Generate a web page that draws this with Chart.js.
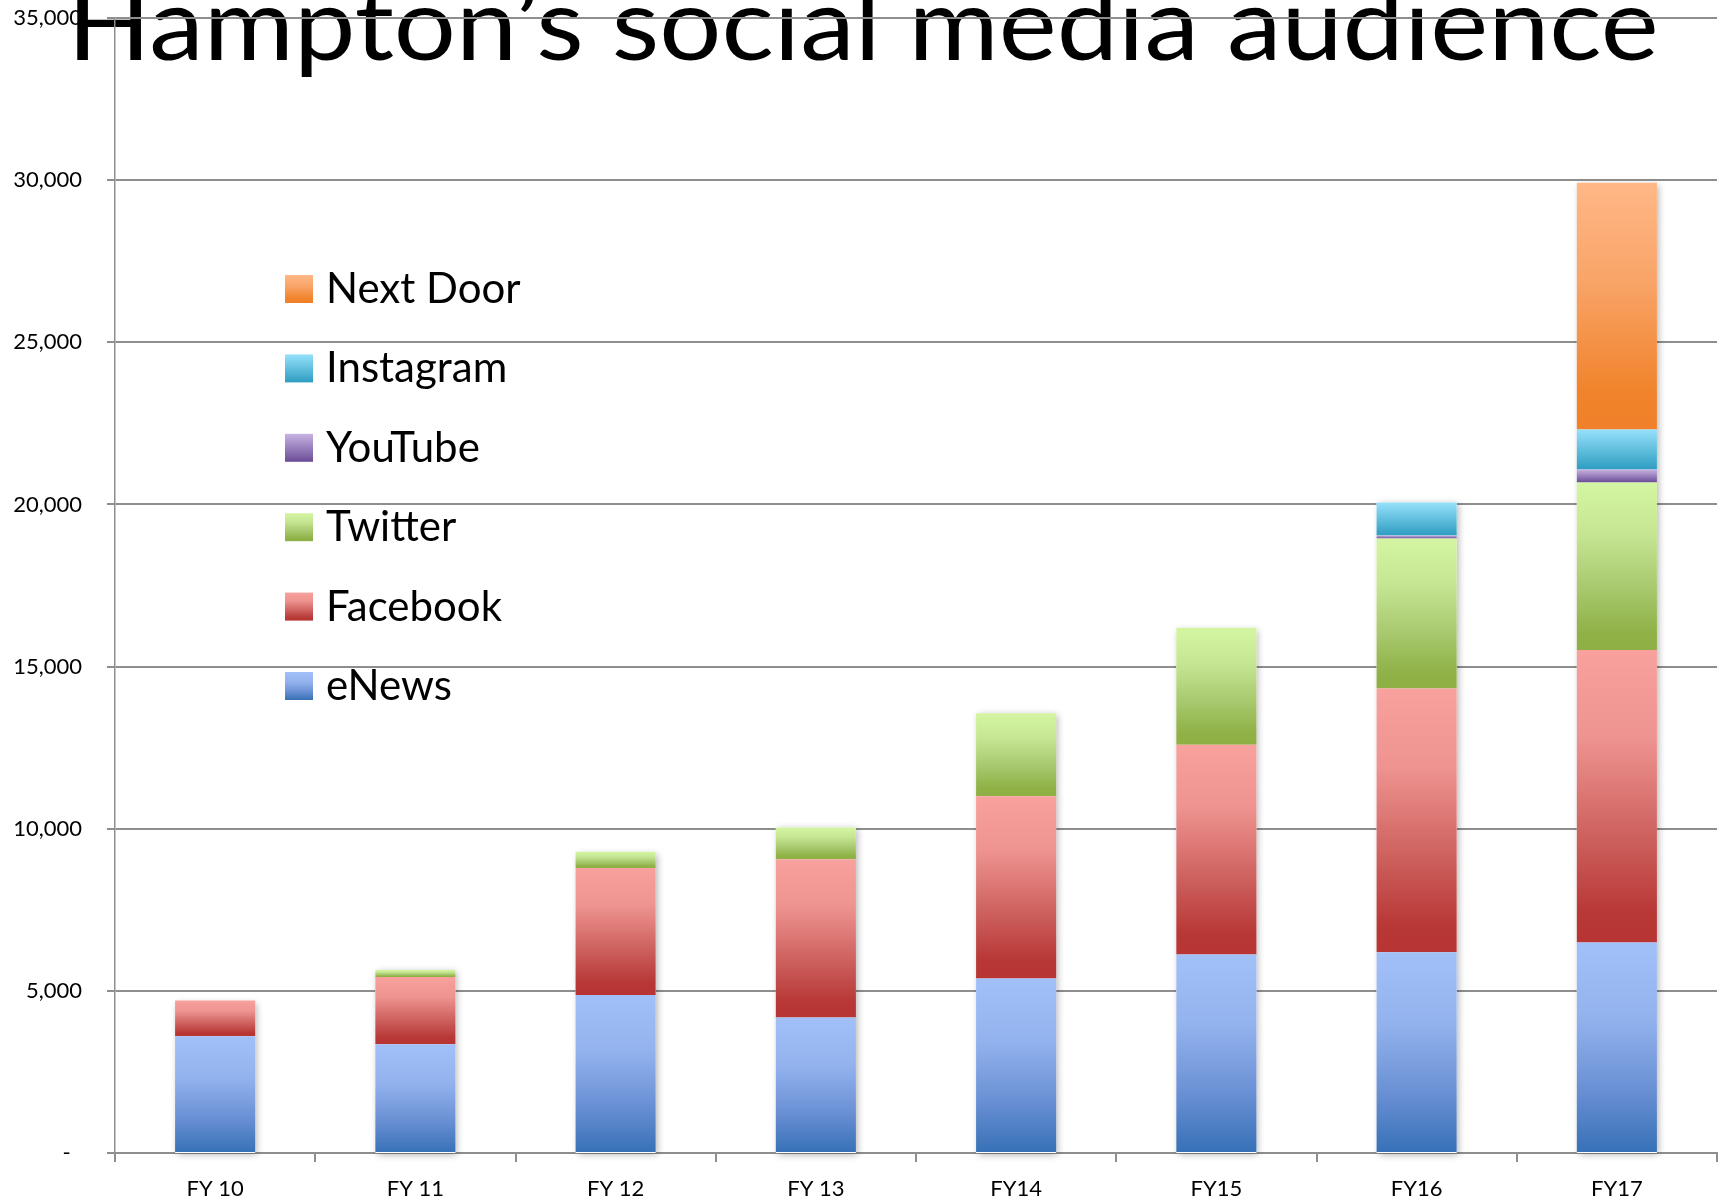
<!DOCTYPE html>
<html>
<head>
<meta charset="utf-8">
<script src="https://cdn.jsdelivr.net/npm/chart.js@4.4.1/dist/chart.umd.min.js"></script>
<style>
html,body{margin:0;padding:0;background:#ffffff;overflow:hidden;}
#wrap{position:relative;width:1729px;height:1203px;}
</style>
</head>
<body>
<div id="wrap"><canvas id="c" width="1729" height="1203"></canvas></div>
<script>
// ---- data ----
const TITLE = "Hampton’s social media audience";
const categories = ["FY 10", "FY 11", "FY 12", "FY 13", "FY14", "FY15", "FY16", "FY17"];
const seriesNames = ["eNews", "Facebook", "Twitter", "YouTube", "Instagram", "Next Door"];
const eNews     = [3600, 3350, 4870, 4180, 5380, 6120, 6190, 6490];
const facebook  = [1100, 2080, 3920, 4880, 5620, 6470, 8130, 9020];
const twitter   = [null, 210, 500, 980, 2560, 3610, 4630, 5170];
const youtube   = [null, null, null, null, null, null, 90, 400];
const instagram = [null, null, null, null, null, null, 1020, 1230];
const nextDoor  = [null, null, null, null, null, null, null, 7610];
const yTickValues = [0, 5000, 10000, 15000, 20000, 25000, 30000, 35000];

// ---- styles ----
const gradStops = [
  [[0,'#A2C0F8'],[0.35,'#93B3EE'],[0.7,'#6A90D4'],[1,'#3670B6']],
  [[0,'#F8A19D'],[0.3,'#EE9390'],[0.65,'#CC5F5C'],[0.9,'#B83836'],[1,'#B73533']],
  [[0,'#D4F5A2'],[0.3,'#C6E694'],[0.65,'#A6C76B'],[0.9,'#8FB146'],[1,'#8DAF44']],
  [[0,'#C7B4E3'],[1,'#6B4C97']],
  [[0,'#96E1FB'],[1,'#2E9DC1']],
  [[0,'#FFB886'],[0.4,'#F9A468'],[0.85,'#F0832B'],[1,'#F0812A']]
];
const FONT = 'Lato';
const GRID = '#8e8e8e';

function makeGradient(c2d, stops, y0, y1) {
  const g = c2d.createLinearGradient(0, y0, 0, y1);
  stops.forEach(s => g.addColorStop(s[0], s[1]));
  return g;
}

function segGradient(stops) {
  return (ctx) => {
    const chart = ctx.chart;
    const fallback = stops[stops.length - 1][1];
    if (ctx.type !== 'data') return fallback;
    const y = chart.scales && chart.scales.y;
    if (!y) return fallback;
    const i = ctx.dataIndex, d = ctx.datasetIndex;
    let base = 0;
    for (let k = 0; k < d; k++) base += (chart.data.datasets[k].data[i] || 0);
    const v = chart.data.datasets[d].data[i] || 0;
    const yTop = y.getPixelForValue(base + v), yBot = y.getPixelForValue(base);
    if (!isFinite(yTop) || !isFinite(yBot) || yBot - yTop < 0.5) return fallback;
    return makeGradient(chart.ctx, stops, yTop, yBot);
  };
}

const seriesData = [eNews, facebook, twitter, youtube, instagram, nextDoor];
const datasets = seriesNames.map((name, k) => ({
  label: name,
  data: seriesData[k],
  backgroundColor: segGradient(gradStops[k]),
  borderWidth: 0,
  barPercentage: 0.4,
  categoryPercentage: 1.0
}));

// Title drawn behind grid lines (as in the reference)
const titlePlugin = {
  id: 'bgTitle',
  beforeDraw(chart) {
    const c = chart.ctx;
    c.save();
    c.font = '101px ' + FONT;
    c.fillStyle = '#000';
    c.textBaseline = 'alphabetic';
    c.textAlign = 'left';
    const m = c.measureText(TITLE);
    const inkL = m.actualBoundingBoxLeft || 0;
    const inkW = (m.actualBoundingBoxRight || m.width) + inkL;
    const sx = 1578 / inkW;
    c.translate(77 + inkL * sx, 59.5);
    c.scale(sx, 1);
    c.fillText(TITLE, 0, 0);
    c.restore();
  }
};

// soft shadow behind each stack
const shadowPlugin = {
  id: 'stackShadow',
  beforeDatasetsDraw(chart) {
    const c = chart.ctx, y = chart.scales.y;
    const meta0 = chart.getDatasetMeta(0);
    c.save();
    c.shadowColor = 'rgba(0,0,0,0.30)';
    c.shadowBlur = 7;
    c.shadowOffsetX = 2;
    c.shadowOffsetY = 2;
    c.fillStyle = '#ffffff';
    categories.forEach((_, i) => {
      let total = 0;
      chart.data.datasets.forEach(ds => { total += (ds.data[i] || 0); });
      const el = meta0.data[i];
      const top = y.getPixelForValue(total), bot = y.getPixelForValue(0);
      c.fillRect(el.x - el.width / 2, top, el.width, bot - top);
    });
    c.restore();
  }
};

// legend drawn inside the plot area, reversed order
const legendPlugin = {
  id: 'innerLegend',
  afterDraw(chart) {
    const c = chart.ctx;
    const n = chart.data.datasets.length;
    c.save();
    c.font = '42px ' + FONT;
    c.textBaseline = 'alphabetic';
    c.textAlign = 'left';
    for (let r = 0; r < n; r++) {
      const k = n - 1 - r;
      const top = 275 + r * 79.4;
      c.fillStyle = makeGradient(c, gradStops[k], top, top + 28);
      c.fillRect(285, top, 28, 28);
      c.fillStyle = '#000';
      c.fillText(chart.data.datasets[k].label, 326, top + 28);
    }
    c.restore();
  }
};

new Chart(document.getElementById('c'), {
  type: 'bar',
  data: { labels: categories, datasets },
  plugins: [titlePlugin, shadowPlugin, legendPlugin],
  options: {
    responsive: false,
    animation: false,
    layout: { padding: { top: 18, right: 12, left: 0, bottom: 0 } },
    plugins: {
      legend: { display: false },
      title: { display: false },
      tooltip: { enabled: false }
    },
    scales: {
      x: {
        stacked: true,
        offset: true,
        grid: { display: true, drawOnChartArea: false, drawTicks: true, tickLength: 9, offset: true, color: GRID, lineWidth: 2 },
        border: { display: true, color: GRID, width: 2 },
        ticks: { font: { family: FONT, size: 22 }, color: '#000', padding: 14, maxRotation: 0, autoSkip: false },
        afterFit: s => { s.height = 50; s.paddingLeft = 0; s.paddingRight = 0; }
      },
      y: {
        stacked: true,
        min: 0,
        max: 35000,
        afterBuildTicks: s => { s.ticks = yTickValues.map(v => ({ value: v })); },
        ticks: {
          font: { family: FONT, size: 22 },
          color: '#000',
          padding: 25,
          callback: v => v === 0 ? '-  ' : v.toLocaleString('en-US')
        },
        grid: { color: GRID, lineWidth: 2, tickLength: 8, drawTicks: true },
        border: { display: true, color: GRID, width: 1.5 },
        afterFit: s => { s.width = 115; s.paddingTop = 0; s.paddingBottom = 0; }
      }
    }
  }
});
</script>
</body>
</html>
